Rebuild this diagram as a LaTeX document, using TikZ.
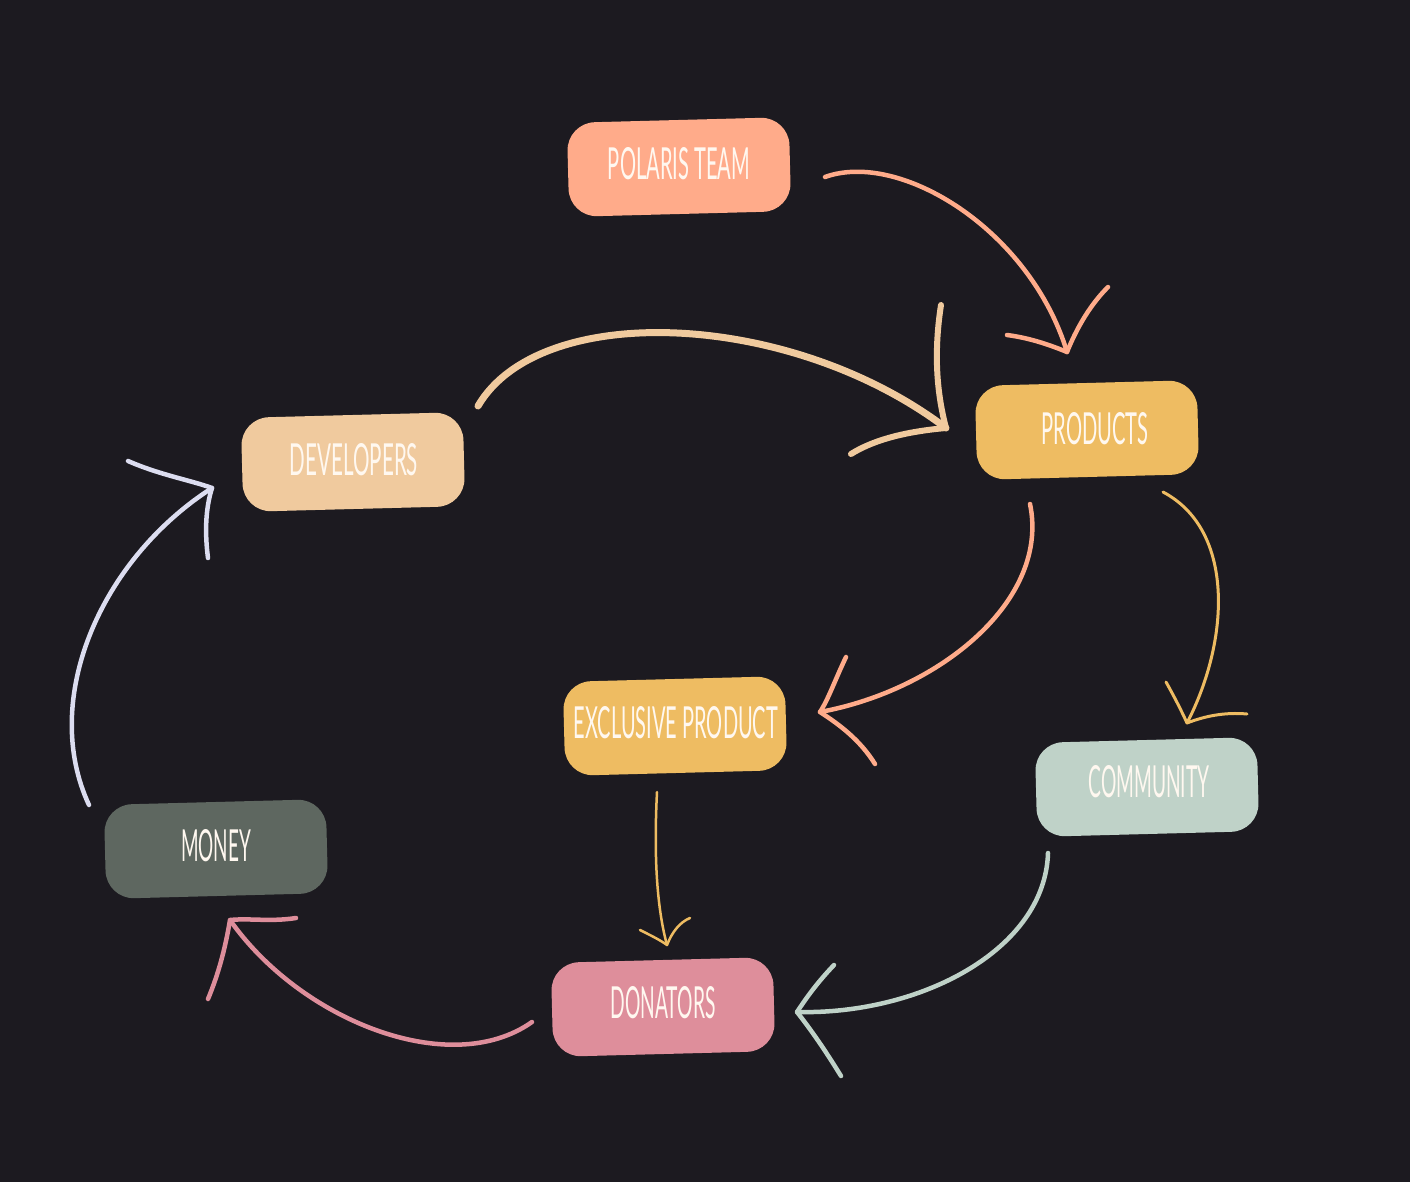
\documentclass[tikz,border=0pt]{standalone}
\usepackage{graphicx}
\usepackage{fontspec}
\setmainfont{Lato}
\definecolor{bg}{HTML}{1C1A20}
\definecolor{salmon}{HTML}{FFAB8A}
\definecolor{gold}{HTML}{EEBC62}
\definecolor{tan}{HTML}{F0CA9E}
\definecolor{sage}{HTML}{BFD2C8}
\definecolor{slate}{HTML}{5E6760}
\definecolor{rose}{HTML}{DE8E9B}
\definecolor{lav}{HTML}{DCDDF0}
\definecolor{txt}{HTML}{FFF8F0}
\newcommand{\lbl}[2]{\resizebox{#1pt}{32pt}{#2}}
\begin{document}
\begin{tikzpicture}[x=1pt,y=-1pt,
  box/.style={rounded corners=28pt, minimum width=222pt, minimum height=94pt, inner sep=0pt, rotate=1.5, text=txt},
  conn/.style={line cap=round, line join=round, line width=#1},
  conn/.default=4.5pt]
\fill[bg] (0,0) rectangle (1410,1182);
\useasboundingbox (0,0) rectangle (1410,1182);
% boxes
\node[box, fill=salmon] (polaris) at (679,167) {};
\node[text=txt] (polarist) at (679,164) {\lbl{142}{POLARIS TEAM}};
\node[box, fill=gold] (products) at (1087,430) {};
\node[text=txt] (productst) at (1095,429) {\lbl{107}{PRODUCTS}};
\node[box, fill=tan] (devs) at (353,462) {};
\node[text=txt] (devst) at (354,460) {\lbl{128}{DEVELOPERS}};
\node[box, fill=gold] (excl) at (675,726) {};
\node[text=txt] (exclt) at (676,723) {\lbl{204}{EXCLUSIVE PRODUCT}};
\node[box, fill=sage] (comm) at (1147,787) {};
\node[text=txt] (commt) at (1149,782) {\lbl{121}{COMMUNITY}};
\node[box, fill=slate] (money) at (216,849) {};
\node[text=txt] (moneyt) at (216,846) {\lbl{70}{MONEY}};
\node[box, fill=rose] (don) at (663,1007) {};
\node[text=txt] (dont) at (663,1003) {\lbl{105}{DONATORS}};
% connector end points
\coordinate (a1s) at (825,177); \coordinate (a1t) at (1067,352);
\coordinate (a1l) at (1007,335); \coordinate (a1r) at (1108,287);
\coordinate (a2s) at (478,406); \coordinate (a2t) at (946,428);
\coordinate (a2l) at (941,305); \coordinate (a2r) at (851,454);
\coordinate (a3s) at (1030,504); \coordinate (a3t) at (820,712);
\coordinate (a3l) at (846,657); \coordinate (a3r) at (875,764);
\coordinate (a4s) at (1163,492); \coordinate (a4t) at (1187,723);
\coordinate (a4l) at (1166,682); \coordinate (a4r) at (1247,714);
\coordinate (a5s) at (657,792); \coordinate (a5t) at (667,945);
\coordinate (a5l) at (640,930); \coordinate (a5r) at (690,918);
\coordinate (a6s) at (1048,853); \coordinate (a6t) at (797,1012);
\coordinate (a6l) at (834,965); \coordinate (a6r) at (841,1076);
\coordinate (a7s) at (532,1022); \coordinate (a7t) at (230,920);
\coordinate (a7l) at (296,918); \coordinate (a7r) at (208,999);
\coordinate (a8s) at (89,805); \coordinate (a8t) at (212,488);
\coordinate (a8l) at (128,461); \coordinate (a8r) at (208,558);
% connectors
\draw[conn, salmon] (a1s) .. controls (900,150) and (1030,230) .. (a1t);
\draw[conn, salmon] (a1l) .. controls (1030,338) and (1050,345) .. (a1t) .. controls (1080,320) and (1095,300) .. (a1r);
\draw[conn=7pt, tan] (a2s) .. controls (540,300) and (790,310) .. (a2t);
\draw[conn=6pt, tan] (a2l) .. controls (934,350) and (936,390) .. (a2t) .. controls (900,432) and (870,442) .. (a2r);
\draw[conn, salmon] (a3s) .. controls (1050,600) and (940,690) .. (a3t);
\draw[conn, salmon] (a3l) .. controls (835,680) and (828,700) .. (a3t) .. controls (840,725) and (860,740) .. (a3r);
\draw[conn=3pt, gold] (a4s) .. controls (1235,530) and (1230,640) .. (a4t);
\draw[conn=3pt, gold] (a4l) .. controls (1175,698) and (1182,712) .. (a4t) .. controls (1205,716) and (1225,712) .. (a4r);
\draw[conn=2.5pt, gold] (a5s) .. controls (654,850) and (656,905) .. (a5t);
\draw[conn=2.5pt, gold] (a5l) .. controls (652,936) and (660,940) .. (a5t) .. controls (672,932) and (680,922) .. (a5r);
\draw[conn, sage] (a6s) .. controls (1045,950) and (920,1015) .. (a6t);
\draw[conn, sage] (a6l) .. controls (815,985) and (805,1000) .. (a6t) .. controls (815,1035) and (828,1055) .. (a6r);
\draw[conn, rose] (a7s) .. controls (450,1080) and (300,1020) .. (a7t);
\draw[conn, rose] (a7l) .. controls (270,922) and (250,918) .. (a7t) .. controls (225,950) and (218,975) .. (a7r);
\draw[conn, lav] (a8s) .. controls (40,700) and (100,560) .. (a8t);
\draw[conn, lav] (a8l) .. controls (160,475) and (190,480) .. (a8t) .. controls (205,510) and (205,535) .. (a8r);
\end{tikzpicture}
\end{document}
